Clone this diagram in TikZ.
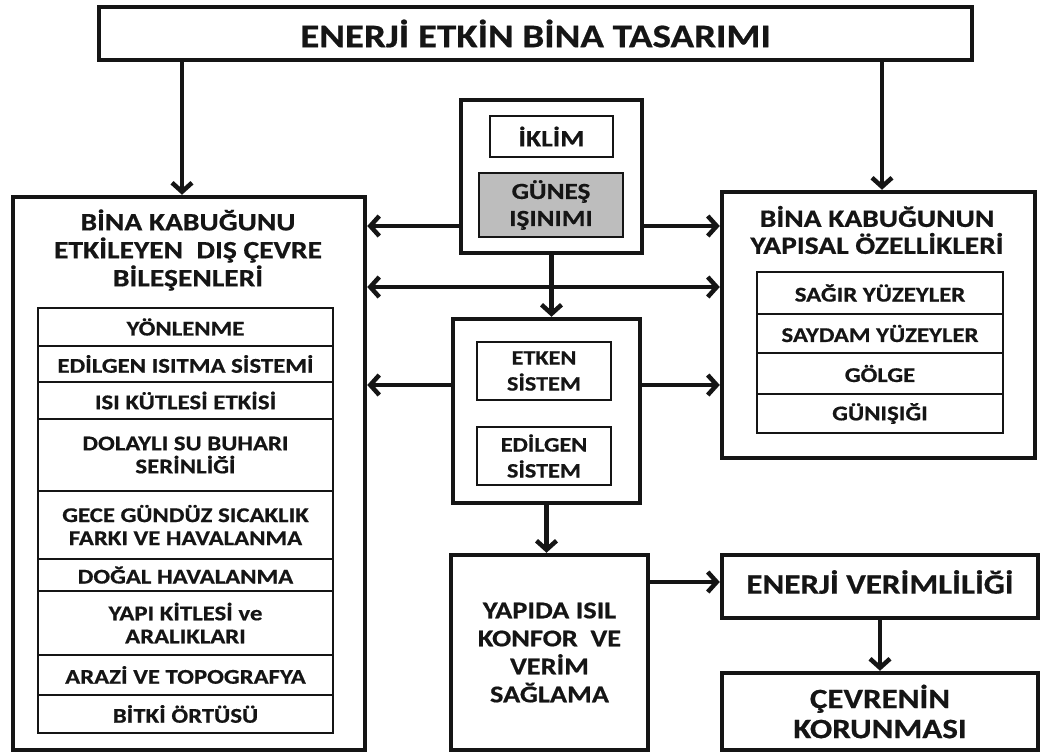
\documentclass[tikz,border=0pt]{standalone}
\usepackage{fontspec}
\setmainfont{Carlito}[FakeStretch=1.18, BoldFeatures={FakeBold=0.6}]
\usetikzlibrary{arrows.meta}
\newcommand\myfs[2]{\fontsize{#1}{#2}\selectfont\bfseries}
\definecolor{ink}{HTML}{151515}
\definecolor{sungray}{HTML}{BDBDBD}
\begin{document}
\begin{tikzpicture}[x=1pt,y=-1pt,
  big/.style={draw=ink, line width=4.5pt, inner sep=0pt, align=center, text=ink},
  small/.style={draw=ink, line width=1.8pt, inner sep=0pt, align=center, text=ink},
  lbl/.style={inner sep=0pt, align=center, text=ink},
  tipb/.tip={Straight Barb[length=9pt,width=20pt]},
  arr/.style={draw=ink, line width=4.5pt, -tipb},
  darr/.style={draw=ink, line width=4.5pt, tipb-tipb}]
\useasboundingbox (0,0) rectangle (1040,753);
\fill[white] (0,0) rectangle (1040,753);

% title
\node[big, minimum width=873, minimum height=53, font=\myfs{33}{36}] (title) at (535.5,33.5) {ENERJİ ETKİN BİNA TASARIMI};

% left big box
\node[big, minimum width=352, minimum height=553] (lbox) at (189,473.5) {};
\node[lbl, font=\myfs{25}{28}] (lhead) at (188,250) {BİNA KABUĞUNU\\ETKİLEYEN~~DIŞ ÇEVRE\\BİLEŞENLERİ};
\begin{scope}[every node/.style={small, minimum width=295, font=\myfs{21}{23}}]
\node[minimum height=38] (l1) at (185.5,327) {YÖNLENME};
\node[minimum height=36] (l2) at (185.5,364) {EDİLGEN ISITMA SİSTEMİ};
\node[minimum height=37] (l3) at (185.5,400.5) {ISI KÜTLESİ ETKİSİ};
\node[minimum height=72] (l4) at (185.5,455) {DOLAYLI SU BUHARI\\SERİNLİĞİ};
\node[minimum height=68] (l5) at (185.5,525) {GECE GÜNDÜZ SICAKLIK\\FARKI VE HAVALANMA};
\node[minimum height=32] (l6) at (185.5,575) {DOĞAL HAVALANMA};
\node[minimum height=64] (l7) at (185.5,623) {YAPI KİTLESİ ve\\ARALIKLARI};
\node[minimum height=40] (l8) at (185.5,675) {ARAZİ VE TOPOGRAFYA};
\node[minimum height=38] (l9) at (185.5,714) {BİTKİ ÖRTÜSÜ};
\end{scope}

% centre top box
\node[big, minimum width=181, minimum height=153] (ctop) at (551.5,176.5) {};
\node[small, minimum width=123, minimum height=41, font=\myfs{23.5}{25}] (iklim) at (551.5,136.5) {İKLİM};
\node[small, fill=sungray, minimum width=144, minimum height=64, font=\myfs{23}{27}] (gunes) at (551,205) {GÜNEŞ\\IŞINIMI};

% centre bottom box
\node[big, minimum width=187, minimum height=184] (cbot) at (546.5,411) {};
\node[small, minimum width=134, minimum height=58, font=\myfs{20.5}{26}] (etken) at (544,371) {ETKEN\\SİSTEM};
\node[small, minimum width=134, minimum height=58, font=\myfs{20.5}{26}] (edilgen) at (544,456) {EDİLGEN\\SİSTEM};

% right box
\node[big, minimum width=313, minimum height=266] (rbox) at (878.5,325) {};
\node[lbl, font=\myfs{25}{27}] (rhead) at (877,230) {BİNA KABUĞUNUN\\YAPISAL ÖZELLİKLERİ};
\begin{scope}[every node/.style={small, minimum width=246, font=\myfs{21}{23}}]
\node[minimum height=42] (r1) at (880,293) {SAĞIR YÜZEYLER};
\node[minimum height=39] (r2) at (880,333.5) {SAYDAM YÜZEYLER};
\node[minimum height=41] (r3) at (880,373.5) {GÖLGE};
\node[minimum height=39] (r4) at (880,413.5) {GÜNIŞIĞI};
\end{scope}

% bottom boxes
\node[big, minimum width=197, minimum height=195, font=\myfs{24}{28}] (yapida) at (549.5,652.5) {YAPIDA ISIL\\KONFOR~~VE\\VERİM\\SAĞLAMA};
\node[big, minimum width=316, minimum height=63] (enerji) at (880,586.5) {};
\node[lbl, font=\myfs{28}{30}] (enerjit) at (880,582) {ENERJİ VERİMLİLİĞİ};
\node[big, minimum width=316, minimum height=77, font=\myfs{28}{30}] (cevre) at (880,711.5) {ÇEVRENİN\\KORUNMASI};

% connectors
\draw[arr] (182,0 |- title.south) -- (182,0 |- lbox.north);
\draw[arr] (882,0 |- title.south) -- (882,0 |- rbox.north);
\draw[arr] (ctop.west |- 0,226) -- (lbox.east |- 0,226);
\draw[arr] (ctop.east |- 0,226) -- (rbox.west |- 0,226);
\draw[darr] (lbox.east |- 0,287) -- (rbox.west |- 0,287);
\draw[arr] (ctop.south) -- (ctop.south |- cbot.north);
\draw[arr] (cbot.west |- 0,385) -- (lbox.east |- 0,385);
\draw[arr] (cbot.east |- 0,385) -- (rbox.west |- 0,385);
\draw[arr] (cbot.south) -- (cbot.south |- yapida.north);
\draw[arr] (yapida.east |- 0,582) -- (enerji.west |- 0,582);
\draw[arr] (enerji.south) -- (enerji.south |- cevre.north);
\end{tikzpicture}
\end{document}
